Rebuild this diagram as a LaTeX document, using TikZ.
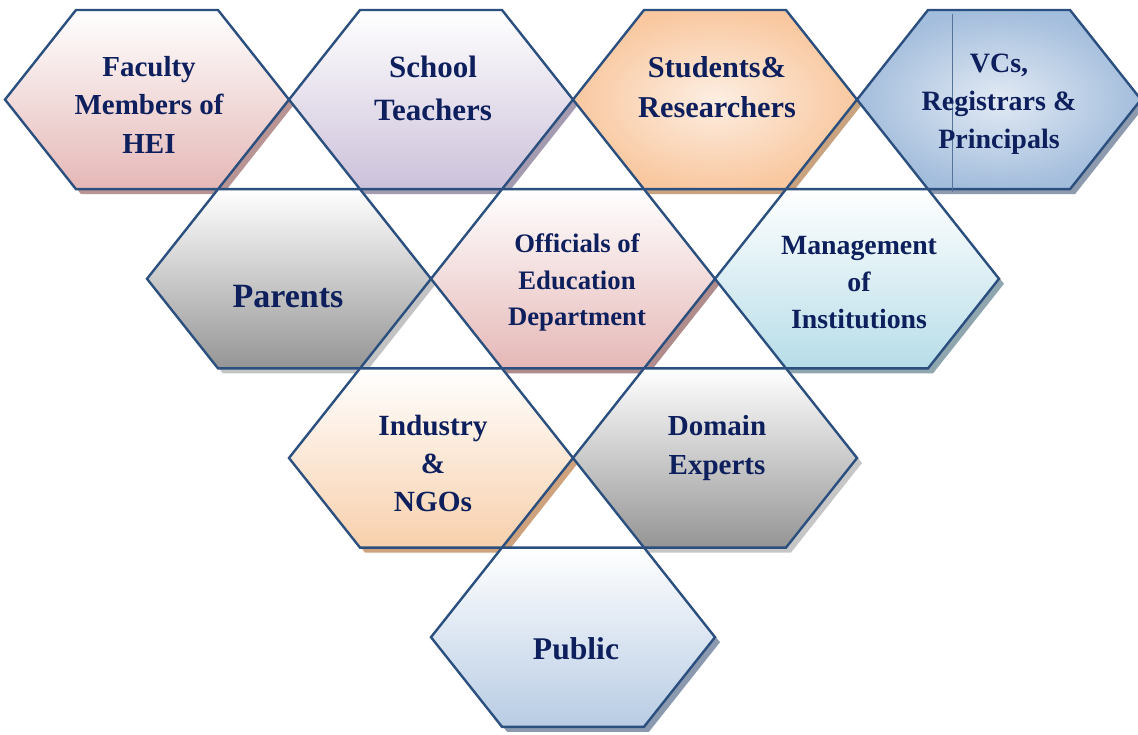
\documentclass[tikz,border=0pt]{standalone}
\usepackage{fontspec}
\setmainfont{Liberation Serif}

\definecolor{hexedge}{HTML}{2B4F7E}
\definecolor{navy}{HTML}{0D1F5C}
\definecolor{pinkbot}{HTML}{E5B8B7}
\definecolor{lilacbot}{HTML}{CCC1DA}
\definecolor{peachin}{HTML}{FDEEE2}
\definecolor{peachout}{HTML}{F9C8A0}
\definecolor{bluein}{HTML}{E2EAF4}
\definecolor{blueout}{HTML}{A3BDDC}
\definecolor{greybot}{HTML}{959595}
\definecolor{aquabot}{HTML}{B7DDE8}
\definecolor{apricot}{HTML}{F8D0AC}
\definecolor{skybot}{HTML}{B8CCE4}

% one flat-topped cell, centre given in pt
\newcommand\hexat[2]{({#1-142},{#2}) -- ({#1-71},{#2+89.6}) -- ({#1+71},{#2+89.6})
  -- ({#1+142},{#2}) -- ({#1+71},{#2-89.6}) -- ({#1-71},{#2-89.6}) -- cycle}

\tikzset{
  hexline/.style={draw=hexedge, line width=2.4pt, line join=miter},
  who/.style 2 args={text=navy, align=center, font=\fontsize{#1}{#2}\selectfont\bfseries}
}

\begin{document}
\begin{tikzpicture}[x=1pt,y=1pt]
  \useasboundingbox (0,0) rectangle (1138,734);

  % drop shadows
  \foreach \x/\y/\c in {147/634.4/B89494, 431/634.4/A49BB0, 715/634.4/C9A27F, 999/634.4/8E9BAE,
                        289/455.2/C3C3C3, 573/455.2/B08C8C, 857/455.2/8FA6AE,
                        431/276/CFA27E, 715/276/C6C6C6, 573/96.8/8B9AAF}{
    \definecolor{shd}{HTML}{\c}
    \fill[shd, xshift=5pt, yshift=-5pt] \hexat{\x}{\y};
  }

  % top row
  \draw[hexline, top color=white, bottom color=pinkbot] \hexat{147}{634.4};
  \draw[hexline, top color=white, bottom color=lilacbot] \hexat{431}{634.4};
  \draw[hexline, inner color=peachin, outer color=peachout] \hexat{715}{634.4};
  \draw[hexline, inner color=bluein, outer color=blueout] \hexat{999}{634.4};
  \draw[hexedge!80, line width=0.7pt] (952,720) -- (952,542);

  % second row
  \draw[hexline, top color=white, bottom color=greybot] \hexat{289}{455.2};
  \draw[hexline, top color=white, bottom color=pinkbot] \hexat{573}{455.2};
  \draw[hexline, top color=white, bottom color=aquabot] \hexat{857}{455.2};

  % third and fourth row
  \draw[hexline, top color=white, bottom color=apricot] \hexat{431}{276};
  \draw[hexline, top color=white, bottom color=greybot] \hexat{715}{276};
  \draw[hexline, top color=white, bottom color=skybot] \hexat{573}{96.8};

  \node[who={29}{38.5}] (fac) at (149,629.5) {Faculty\\Members of\\HEI};
  \node[who={31}{43}] (sch) at (433,645.5) {School\\Teachers};
  \node[who={30.3}{40}] (stu) at (717,646.5) {Students\&\\Researchers};
  \node[who={28}{38}] (vcs) at (999,630) {VCs,\\Registrars \&\\Principals};
  \node[who={34}{45}] (par) at (288,437) {Parents};
  \node[who={26.7}{36.5}] (off) at (577,451.5) {Officials of\\Education\\Department};
  \node[who={27.8}{37}] (mgt) at (859,451.5) {Management\\of\\Institutions};
  \node[who={29.3}{38}] (ind) at (433,271) {Industry\\\&\\NGOs};
  \node[who={29}{39}] (dom) at (717,285.5) {Domain\\Experts};
  \node[who={31.6}{42}] (pub) at (576,85) {Public};
\end{tikzpicture}
\end{document}
